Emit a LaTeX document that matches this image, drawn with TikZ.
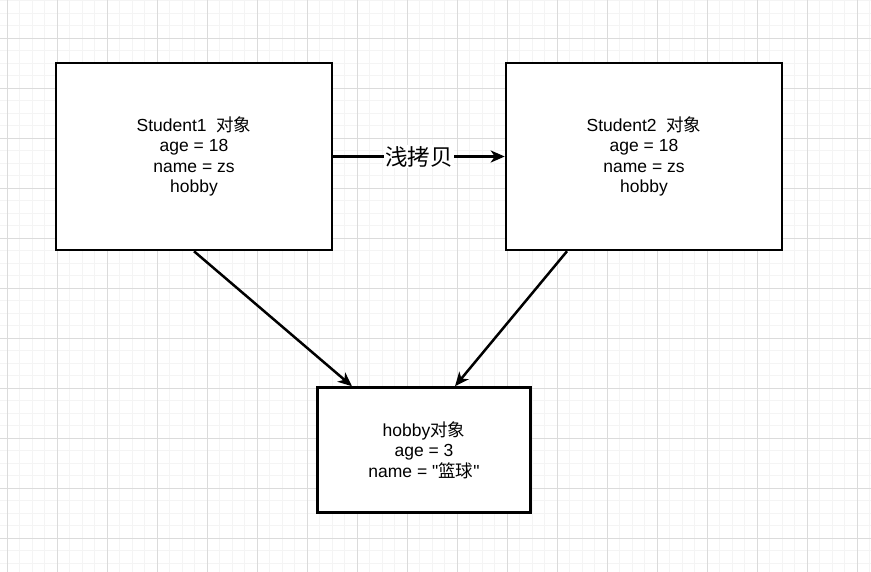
\documentclass[tikz,border=0pt]{standalone}
\usepackage{fontspec}
\setmainfont{Liberation Sans}
\newfontfamily\latin{Liberation Sans}
\newfontfamily\cjk{Noto Sans CJK SC}
\usetikzlibrary{arrows.meta}
\begin{document}
\begin{tikzpicture}[x=1pt,y=-1pt,
    box/.style={draw,line width=2.5pt,fill=white,align=center,inner sep=0pt,
      font=\latin\fontsize{17.5}{20.5}\selectfont},
    link/.style={line width=2.5pt,-{Stealth[length=14pt,width=12pt,inset=4pt]}},
    lbl/.style={fill=white,inner sep=1pt,font=\cjk\fontsize{22.5}{27}\selectfont}]
  \useasboundingbox (0,0) rectangle (871,572);
  \fill[white] (0,0) rectangle (871,572);
  % grid
  \foreach \x in {-5.2,7.3,...,875} \draw[gray!9,line width=1pt] (\x,0) -- (\x,572);
  \foreach \y in {0.8,13.3,...,575} \draw[gray!9,line width=1pt] (0,\y) -- (871,\y);
  \foreach \x in {7.3,57.3,...,875} \draw[gray!28,line width=1pt] (\x,0) -- (\x,572);
  \foreach \y in {38.3,88.3,...,575} \draw[gray!28,line width=1pt] (0,\y) -- (871,\y);
  % objects
  \node[box,minimum width=276pt,minimum height=187pt] (s1) at (194,156.5)
    {Student1\ \ {\cjk 对象}\\age = 18\\name = zs\\hobby};
  \node[box,minimum width=276pt,minimum height=187pt] (s2) at (644,156.5)
    {Student2\ \ {\cjk 对象}\\age = 18\\name = zs\\hobby};
  \node[box,minimum width=213pt,minimum height=125pt] (h) at (424,450)
    {hobby{\cjk 对象}\\age = 3\\name = "{\cjk 篮球}"};
  \draw[link] (s1) -- node[lbl] {浅拷贝} (s2);
  \draw[link] (s1.south) -- ([xshift=-72pt]h.north);
  \draw[link] ([xshift=-77pt]s2.south) -- ([xshift=31pt]h.north);
\end{tikzpicture}
\end{document}
